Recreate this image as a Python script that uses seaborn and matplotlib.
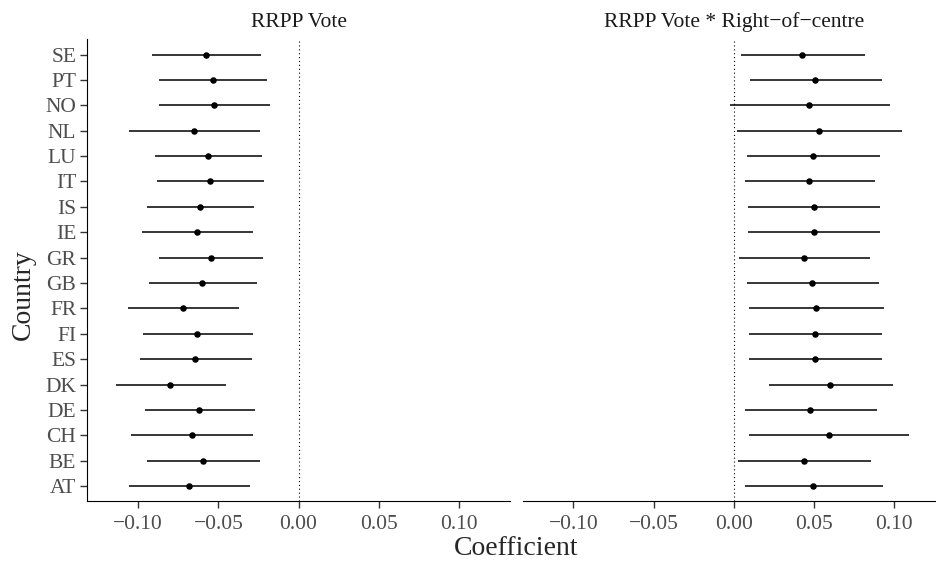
import pandas as pd
import seaborn as sns
import matplotlib.pyplot as plt

countries = ["AT", "BE", "CH", "DE", "DK", "ES", "FI", "FR", "GB",
             "GR", "IE", "IS", "IT", "LU", "NL", "NO", "PT", "SE"]

vote_est = [-0.0683, -0.0596, -0.0667, -0.0619, -0.0800, -0.0644, -0.0631, -0.0721, -0.0600,
            -0.0548, -0.0634, -0.0615, -0.0550, -0.0565, -0.0652, -0.0530, -0.0536, -0.0580]
vote_lo = [-0.1059, -0.0943, -0.1045, -0.0960, -0.1138, -0.0990, -0.0970, -0.1063, -0.0933,
           -0.0870, -0.0976, -0.0947, -0.0880, -0.0895, -0.1057, -0.0870, -0.0870, -0.0914]
vote_hi = [-0.0301, -0.0243, -0.0285, -0.0272, -0.0453, -0.0291, -0.0285, -0.0374, -0.0260,
           -0.0220, -0.0287, -0.0276, -0.0216, -0.0226, -0.0241, -0.0179, -0.0195, -0.0237]

inter_est = [0.0495, 0.0435, 0.0591, 0.0474, 0.0601, 0.0504, 0.0506, 0.0512, 0.0489,
             0.0437, 0.0497, 0.0497, 0.0468, 0.0493, 0.0528, 0.0470, 0.0506, 0.0427]
inter_lo = [0.0067, 0.0023, 0.0096, 0.0067, 0.0218, 0.0094, 0.0096, 0.0092, 0.0083,
            0.0033, 0.0091, 0.0089, 0.0067, 0.0083, 0.0021, -0.0023, 0.0098, 0.0046]
inter_hi = [0.0930, 0.0853, 0.1092, 0.0891, 0.0991, 0.0922, 0.0924, 0.0938, 0.0903,
            0.0847, 0.0909, 0.0913, 0.0878, 0.0911, 0.1047, 0.0972, 0.0922, 0.0816]

terms = ["RRPP Vote", "RRPP Vote * Right\u2212of\u2212centre"]

df = pd.concat([
    pd.DataFrame({"term": terms[0], "country": countries,
                  "est": vote_est, "lo": vote_lo, "hi": vote_hi}),
    pd.DataFrame({"term": terms[1], "country": countries,
                  "est": inter_est, "lo": inter_lo, "hi": inter_hi}),
])
df["pos"] = df["country"].map({c: i for i, c in enumerate(countries)})

sns.set_style("ticks")
plt.rcParams["font.family"] = ["Liberation Serif", "DejaVu Serif"]

fig = plt.figure(figsize=(9.36, 5.64), dpi=100)
ax1 = fig.add_axes([0.0933, 0.1112, 0.4513, 0.8191])
ax2 = fig.add_axes([0.5584, 0.1112, 0.4513, 0.8191])

for ax, term in zip([ax1, ax2], terms):
    sub = df[df["term"] == term]
    ax.axvline(0, color="black", lw=0.8, ls=(0, (1, 2.5)), zorder=1)
    ax.hlines(sub["pos"], sub["lo"], sub["hi"], color="black", lw=1.1, zorder=2)
    sns.scatterplot(data=sub, x="est", y="pos", ax=ax, color="black",
                    s=22, edgecolor="black", linewidth=0, zorder=3, legend=False)
    ax.set_xlim(-0.1317, 0.1317)
    ax.set_ylim(-0.6, 17.6)
    ax.set_xticks([-0.10, -0.05, 0.00, 0.05, 0.10])
    ax.set_xticklabels(["\u22120.10", "\u22120.05", "0.00", "0.05", "0.10"])
    ax.set_xlabel("")
    ax.set_ylabel("")
    ax.set_title(term, fontsize=15.5, color="#1A1A1A", pad=9)
    ax.tick_params(axis="both", labelsize=15.5, labelcolor="#4D4D4D",
                   color="#333333", length=5, width=1, pad=3)
    ax.tick_params(axis="x", pad=5)
    for s in ["top", "right"]:
        ax.spines[s].set_visible(False)
    ax.spines["bottom"].set_color("black")
    ax.spines["left"].set_color("black")

ax1.set_yticks(range(len(countries)))
ax1.set_yticklabels(countries)
ax2.set_yticks([])
ax2.spines["left"].set_visible(False)

fig.text(0.5513, 0.006, "Coefficient", ha="center", va="bottom", fontsize=20)
fig.text(0.012, 0.4785, "Country", ha="left", va="center", rotation=90, fontsize=20)

fig.savefig("out.png", dpi=100)
